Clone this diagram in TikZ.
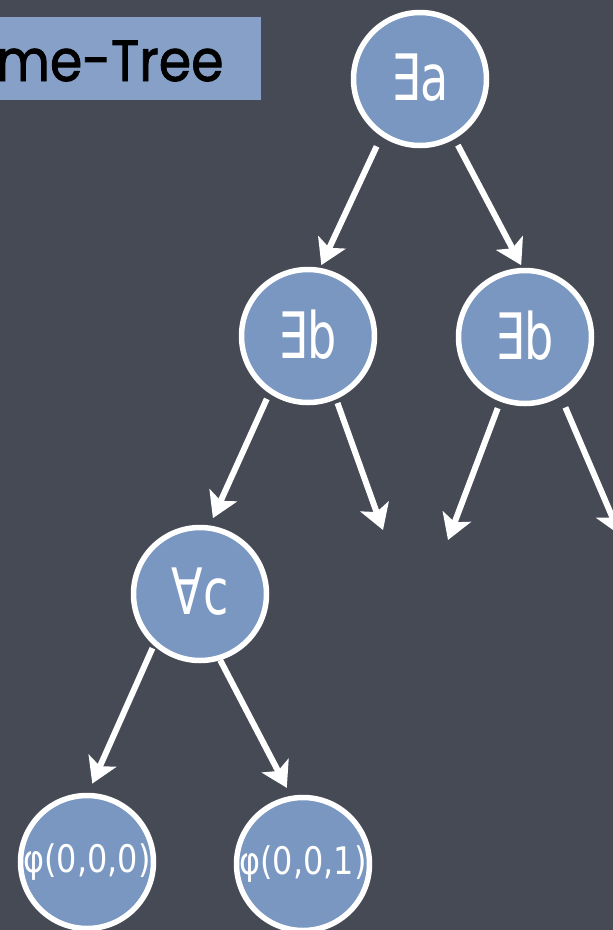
\documentclass[tikz,border=0pt]{standalone}
\usepackage{fontspec}
\setmainfont{DejaVu Sans}
\newfontfamily\titlefont{Poppins}
\usetikzlibrary{arrows.meta}
\definecolor{bgc}{RGB}{70,74,84}
\definecolor{nodec}{RGB}{122,151,193}
\definecolor{titlec}{RGB}{134,160,200}
\newcommand\qtext[2]{\raisebox{#1}{\scalebox{0.72}[1]{#2}}}
\newcommand\leaftext[1]{\scalebox{0.84}[1]{#1}}
\begin{document}
\begin{tikzpicture}[x=1pt,y=-1pt,
  qnode/.style={circle, draw=white, line width=5.5pt, fill=nodec, minimum size=133pt,
    inner sep=0pt, text=white, font=\fontsize{64}{64}\selectfont},
  leaf/.style={qnode, font=\fontsize{38}{38}\selectfont},
  arr/.style={white, line width=6pt, -{Stealth[length=25pt,width=30pt,inset=6pt]}}]
\clip (0,0) rectangle (613,930);
\fill[bgc] (0,0) rectangle (613,930);
% title
\fill[titlec] (-10,17) rectangle (261,100);
\node[anchor=base west, inner sep=0pt, font=\titlefont\fontsize{58}{58}\selectfont\addfontfeatures{FakeBold=1.5}, text=black] (title) at (-4,81) {\scalebox{0.9}[1]{me-Tree}};
% nodes
\node[qnode] (root) at (420,79) {\qtext{3pt}{∃a}};
\node[qnode] (bl) at (308,336) {\qtext{4pt}{∃b}};
\node[qnode] (br) at (525,337) {\qtext{4pt}{∃b}};
\node[qnode] (c) at (200,594) {\qtext{6pt}{∀c}};
\node[leaf] (p0) at (87,862) {\leaftext{φ(0,0,0)}};
\node[leaf] (p1) at (303,864) {\leaftext{φ(0,0,1)}};
% free ends
\coordinate (blr) at (383,530);
\coordinate (brl) at (448,540);
\coordinate (brr) at (620,535);
% arrows
\draw[arr, shorten <=11pt, shorten >=3pt] (root.236) -- (bl.80);
\draw[arr, shorten <=7pt, shorten >=3pt] (root.300) -- (br.92);
\draw[arr, shorten <=6pt, shorten >=8pt] (bl.236) -- (c.82);
\draw[arr, shorten <=4pt] (bl.294) -- (blr);
\draw[arr, shorten <=7pt] (br.249) -- (brl);
\draw[arr, shorten <=12pt] (br.301) -- (brr);
\draw[arr, shorten <=3pt, shorten >=10pt] (c.228) -- (p0.89);
\draw[arr, shorten >=9pt] (c.287) -- (p1.100);
\end{tikzpicture}
\end{document}
